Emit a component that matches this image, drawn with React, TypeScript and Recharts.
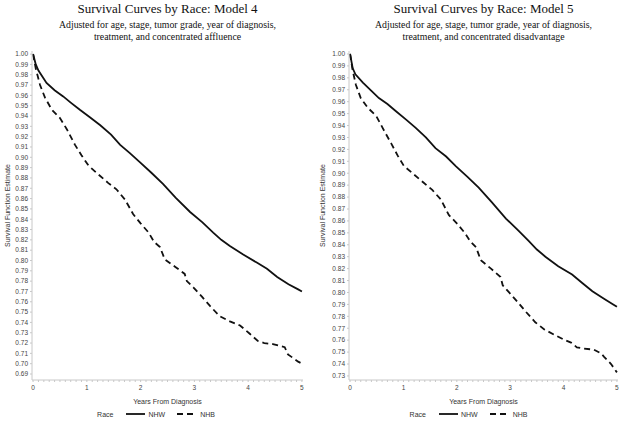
import { LineChart, Line, XAxis, YAxis, Legend } from 'recharts';

// Model 4 (adjusted for concentrated affluence)
const m4NhwYears = [0, 0.05, 0.1, 0.25, 0.4, 0.56, 0.7, 0.87, 1.05, 1.25, 1.45, 1.62, 1.8, 1.99, 2.2, 2.42, 2.65, 2.92, 3.15, 3.35, 3.5, 3.66, 3.9, 4.16, 4.35, 4.54, 4.75, 4.93, 5.0];
const m4NhwSurv = [1.0, 0.99, 0.984, 0.972, 0.965, 0.959, 0.953, 0.946, 0.939, 0.931, 0.922, 0.912, 0.904, 0.895, 0.885, 0.874, 0.861, 0.847, 0.837, 0.827, 0.82, 0.814, 0.806, 0.798, 0.792, 0.784, 0.777, 0.772, 0.77];
const m4NhbYears = [0, 0.05, 0.13, 0.22, 0.35, 0.5, 0.63, 0.78, 0.9, 1.03, 1.18, 1.4, 1.55, 1.71, 1.86, 2.0, 2.15, 2.25, 2.36, 2.45, 2.64, 2.82, 2.86, 2.98, 3.14, 3.29, 3.47, 3.66, 3.85, 4.03, 4.18, 4.3, 4.46, 4.68, 4.74, 4.85, 4.93, 5.0];
const m4NhbSurv = [1.0, 0.986, 0.97, 0.958, 0.946, 0.938, 0.927, 0.912, 0.902, 0.892, 0.885, 0.875, 0.869, 0.859, 0.845, 0.836, 0.827, 0.818, 0.813, 0.801, 0.794, 0.787, 0.78, 0.774, 0.765, 0.756, 0.746, 0.741, 0.737, 0.729, 0.722, 0.72, 0.719, 0.716, 0.709, 0.705, 0.702, 0.7];

// Model 5 (adjusted for concentrated disadvantage)
const m5NhwYears = [0, 0.05, 0.1, 0.24, 0.4, 0.54, 0.7, 0.86, 1.05, 1.23, 1.42, 1.6, 1.8, 1.98, 2.2, 2.41, 2.65, 2.92, 3.15, 3.35, 3.5, 3.66, 3.9, 4.16, 4.35, 4.54, 4.75, 4.93, 5.0];
const m5NhwSurv = [1.0, 0.988, 0.983, 0.976, 0.969, 0.963, 0.958, 0.952, 0.945, 0.938, 0.93, 0.921, 0.914, 0.906, 0.897, 0.888, 0.876, 0.862, 0.852, 0.843, 0.836, 0.83, 0.822, 0.815, 0.808, 0.801, 0.795, 0.79, 0.788];
const m5NhbYears = [0, 0.05, 0.11, 0.2, 0.33, 0.49, 0.61, 0.77, 0.89, 1.01, 1.17, 1.38, 1.54, 1.7, 1.85, 2.0, 2.15, 2.25, 2.36, 2.45, 2.64, 2.82, 2.86, 2.98, 3.14, 3.29, 3.47, 3.64, 3.85, 4.03, 4.14, 4.25, 4.38, 4.57, 4.7, 4.76, 4.89, 5.0];
const m5NhbSurv = [1.0, 0.986, 0.974, 0.963, 0.955, 0.948, 0.938, 0.925, 0.915, 0.906, 0.9, 0.892, 0.886, 0.878, 0.865, 0.858, 0.85, 0.843, 0.838, 0.827, 0.82, 0.813, 0.806, 0.8, 0.792, 0.784, 0.775, 0.769, 0.764, 0.76, 0.758, 0.754, 0.753, 0.752, 0.749, 0.746, 0.74, 0.733];

const xLabels = [0, 1, 2, 3, 4, 5];
const xMinorTicks = Array.from({ length: 51 }, (_, i) => i / 10);
const yTicks4 = Array.from({ length: 32 }, (_, i) => Math.round((0.69 + i * 0.01) * 100) / 100);
const yTicks5 = Array.from({ length: 28 }, (_, i) => Math.round((0.73 + i * 0.01) * 100) / 100);

const toPoints = (years: number[], surv: number[]) => years.map((t, i) => ({ t, s: surv[i] }));

const SANS = 'Arial, "Liberation Sans", sans-serif';
const SERIF = '"Times New Roman", "Liberation Serif", serif';
const GRID = '#c8c8c8';

const LegendBox = ({ width }: { width: number }) => (
    <div style={{ width, height: 14, display: 'flex', justifyContent: 'center', alignItems: 'center', fontFamily: SANS, fontSize: 7, color: '#333' }}>
        <span style={{ marginRight: 13 }}>Race</span>
        <svg width={19} height={4}><line x1={0} y1={2} x2={19} y2={2} stroke="#111" strokeWidth={1.8} /></svg>
        <span style={{ marginLeft: 3, marginRight: 12 }}>NHW</span>
        <svg width={17} height={4}><line x1={0} y1={2} x2={17} y2={2} stroke="#111" strokeWidth={1.8} strokeDasharray="6 4" /></svg>
        <span style={{ marginLeft: 6 }}>NHB</span>
    </div>
);

type PanelProps = {
    left: number;
    width: number;
    title: string;
    sub1: string;
    sub2: string;
    nhw: { t: number; s: number }[];
    nhb: { t: number; s: number }[];
    yTicks: number[];
    yDomain: [number, number];
    yAxisWidth: number;
    marginRight: number;
    labelOffset: number;
};

const Panel = ({ left, width, title, sub1, sub2, nhw, nhb, yTicks, yDomain, yAxisWidth, marginRight, labelOffset }: PanelProps) => {
    const plotCenter = yAxisWidth + (width - yAxisWidth - marginRight) / 2;
    return (
        <div style={{ position: 'absolute', left, top: 0, width, height: 421 }}>
            <div style={{ position: 'absolute', left: plotCenter - 200, width: 400, top: 1, textAlign: 'center', fontFamily: SERIF, color: '#111' }}>
                <div style={{ fontSize: 13, lineHeight: '16px' }}>{title}</div>
                <div style={{ fontSize: 9.8, lineHeight: '11.5px', marginTop: 2 }}>{sub1}</div>
                <div style={{ fontSize: 9.8, lineHeight: '11.5px' }}>{sub2}</div>
            </div>
            <LineChart width={width} height={421} margin={{ top: 51, right: marginRight, bottom: 0, left: 0 }}>
                <XAxis
                    xAxisId="main"
                    dataKey="t"
                    type="number"
                    domain={[-0.02, 5.02]}
                    ticks={xMinorTicks}
                    interval={0}
                    tickFormatter={(v: number) => (xLabels.includes(v) ? String(v) : '')}
                    height={27}
                    tickSize={2}
                    tickMargin={3}
                    axisLine={{ stroke: GRID }}
                    tickLine={{ stroke: GRID }}
                    tick={{ fontSize: 6.5, fill: '#444', fontFamily: SANS }}
                    allowDataOverflow
                    label={{ value: 'Years From Diagnosis', position: 'insideBottom', offset: 3, fontSize: 7, fill: '#333', fontFamily: SANS }}
                />
                <XAxis xAxisId="top" orientation="top" type="number" domain={[0, 5]} height={0} tick={false} tickLine={false} axisLine={{ stroke: GRID }} />
                <YAxis
                    yAxisId="main"
                    type="number"
                    domain={yDomain}
                    ticks={yTicks}
                    interval={0}
                    width={yAxisWidth}
                    allowDataOverflow
                    tickSize={2}
                    tickMargin={2}
                    tickFormatter={(v: number) => v.toFixed(2)}
                    axisLine={{ stroke: GRID }}
                    tickLine={{ stroke: GRID }}
                    tick={{ fontSize: 6.5, fill: '#444', fontFamily: SANS }}
                    label={{ value: 'Survival Function Estimate', angle: -90, position: 'insideLeft', offset: labelOffset, dy: -10, fontSize: 7, fill: '#333', fontFamily: SANS, style: { textAnchor: 'middle' } }}
                />
                <YAxis yAxisId="right" orientation="right" width={0} tick={false} tickLine={false} axisLine={{ stroke: GRID }} />
                <Legend verticalAlign="bottom" content={() => <LegendBox width={width} />} />
                <Line xAxisId="main" yAxisId="main" data={nhw} dataKey="s" name="NHW" type="linear" stroke="#111" strokeWidth={1.8} dot={false} isAnimationActive={false} />
                <Line xAxisId="main" yAxisId="main" data={nhb} dataKey="s" name="NHB" type="linear" stroke="#111" strokeWidth={1.8} strokeDasharray="6 4" dot={false} isAnimationActive={false} />
            </LineChart>
        </div>
    );
};

export default function App() {
    return (
        <div style={{ position: 'absolute', left: 0, top: 0, width: 625, height: 421, background: '#fff', overflow: 'hidden' }}>
            <Panel
                left={0}
                width={312}
                title="Survival Curves by Race: Model 4"
                sub1="Adjusted for age, stage, tumor grade, year of diagnosis,"
                sub2="treatment, and concentrated affluence"
                nhw={toPoints(m4NhwYears, m4NhwSurv)}
                nhb={toPoints(m4NhbYears, m4NhbSurv)}
                yTicks={yTicks4}
                yDomain={[0.6842, 1.003]}
                yAxisWidth={32}
                marginRight={9}
                labelOffset={8}
            />
            <Panel
                left={312}
                width={313}
                title="Survival Curves by Race: Model 5"
                sub1="Adjusted for age, stage, tumor grade, year of diagnosis,"
                sub2="treatment, and concentrated disadvantage"
                nhw={toPoints(m5NhwYears, m5NhwSurv)}
                nhb={toPoints(m5NhbYears, m5NhbSurv)}
                yTicks={yTicks5}
                yDomain={[0.7266, 1.0025]}
                yAxisWidth={37}
                marginRight={7}
                labelOffset={11}
            />
        </div>
    );
}
